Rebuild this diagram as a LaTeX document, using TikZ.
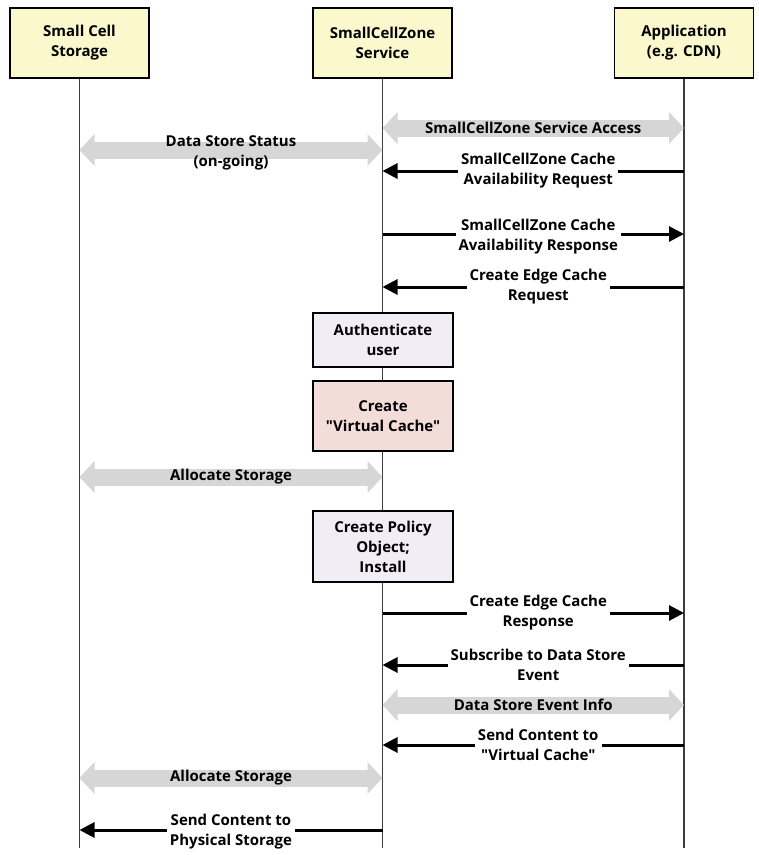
\documentclass[tikz,border=0pt]{standalone}
\usepackage{fontspec}
\setmainfont{Open Sans}[Ligatures=TeXOff]
\usetikzlibrary{arrows.meta}
\definecolor{hdr}{RGB}{250,248,204}
\definecolor{procA}{RGB}{241,237,245}
\definecolor{procB}{RGB}{243,221,216}
\definecolor{band}{RGB}{214,214,214}
\definecolor{life}{RGB}{60,60,60}
\begin{document}
\begin{tikzpicture}[x=1pt,y=-1pt,
 font=\fontsize{15}{20}\selectfont\bfseries,
 actor/.style={draw=black, line width=1.8pt, fill=hdr, minimum width=139pt, minimum height=70pt, align=center, inner sep=0pt},
 procbox/.style={draw=black, line width=1.8pt, minimum width=140pt, align=center, inner sep=0pt},
 lifeline/.style={draw=life, line width=1.8pt},
 msgarrow/.style={line width=3pt, -{Triangle[length=15pt,width=15pt]}},
 dualband/.style={line width=17pt, draw=band, {Triangle[length=15pt,width=31pt]}-{Triangle[length=15pt,width=31pt]}},
 lbl/.style={fill=white, align=center, inner sep=3pt},
 bandlbl/.style={align=center, inner sep=0pt}]
\useasboundingbox[fill=white] (0,0) rectangle (759,855);

% actors
\node[actor] (st) at (79.5,43) {Small Cell\\Storage};
\node[actor] (sv) at (382.5,43) {SmallCellZone\\Service};
\node[actor] (ap) at (684,43) {Application\\(e.g. CDN)};

% lifelines
\coordinate (stEnd) at (st.south |- 0,848);
\coordinate (svEnd) at (sv.south |- 0,848);
\coordinate (apEnd) at (ap.south |- 0,848);
\draw[lifeline] (st.south) -- (stEnd);
\draw[lifeline] (sv.south) -- (svEnd);
\draw[lifeline] (ap.south) -- (apEnd);

% processing boxes
\node[procbox, fill=procA, minimum height=54pt] (auth) at (383,340) {Authenticate\\user};
\node[procbox, fill=procB, minimum height=70pt] (vc) at (383,416) {Create\\"Virtual Cache"};
\node[procbox, fill=procA, minimum height=71pt] (pol) at (383,546.5) {Create Policy\\Object;\\Install};

% messages
\draw[dualband] (sv.south |- 0,128) -- node[bandlbl] {SmallCellZone Service Access} (ap.south |- 0,128);
\draw[dualband] (st.south |- 0,150) -- node[bandlbl, yshift=-3pt] {Data Store Status\\(on-going)} (sv.south |- 0,150);
\draw[msgarrow] (ap.south |- 0,171) -- node[lbl, xshift=5pt] {SmallCellZone Cache\\Availability Request} (sv.south |- 0,171);
\draw[msgarrow] (sv.south |- 0,234) -- node[lbl, xshift=5pt, yshift=-3pt] {SmallCellZone Cache\\Availability Response} (ap.south |- 0,234);
\draw[msgarrow] (ap.south |- 0,287) -- node[lbl, xshift=5pt] {Create Edge Cache\\Request} (sv.south |- 0,287);
\draw[dualband] (st.south |- 0,477) -- node[bandlbl] {Allocate Storage} (sv.south |- 0,477);
\draw[msgarrow] (sv.south |- 0,613) -- node[lbl, xshift=5pt] {Create Edge Cache\\Response} (ap.south |- 0,613);
\draw[msgarrow] (ap.south |- 0,665) -- node[lbl, xshift=5pt] {Subscribe to Data Store\\Event} (sv.south |- 0,665);
\draw[dualband] (sv.south |- 0,705) -- node[bandlbl] {Data Store Event Info} (ap.south |- 0,705);
\draw[msgarrow] (ap.south |- 0,745) -- node[lbl, xshift=5pt] {Send Content to\\"Virtual Cache"} (sv.south |- 0,745);
\draw[dualband] (st.south |- 0,778) -- node[bandlbl] {Allocate Storage} (sv.south |- 0,778);
\draw[msgarrow] (sv.south |- 0,830) -- node[lbl, yshift=-2pt] {Send Content to\\Physical Storage} (st.south |- 0,830);
\end{tikzpicture}
\end{document}
